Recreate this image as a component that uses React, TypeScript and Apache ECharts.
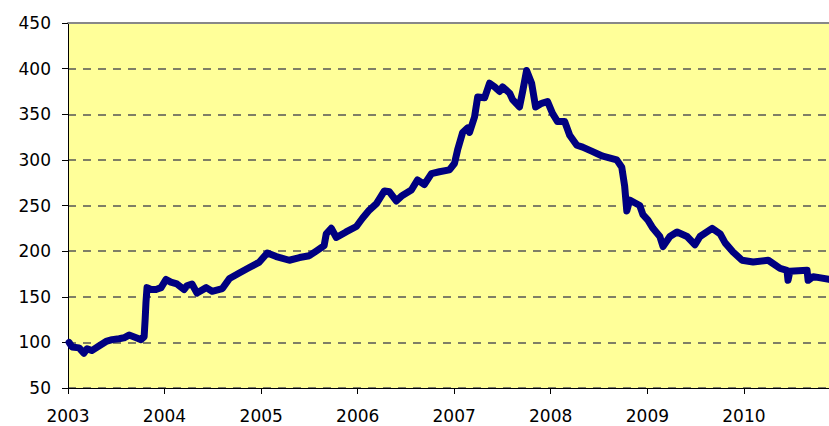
import React, { useEffect, useRef } from "react";
import * as echarts from "echarts";

const dates: string[] = [
  "2003-01-05", "2003-01-16", "2003-02-12", "2003-03-02", "2003-03-14", "2003-04-01",
  "2003-04-28", "2003-05-25", "2003-06-17", "2003-07-13", "2003-08-01", "2003-08-20",
  "2003-09-16", "2003-10-04", "2003-10-16", "2003-10-20", "2003-10-23", "2003-10-27",
  "2003-11-11", "2003-11-30", "2003-12-19", "2004-01-07", "2004-01-25", "2004-02-17",
  "2004-03-15", "2004-03-26", "2004-04-14", "2004-05-03", "2004-06-07", "2004-06-29",
  "2004-08-07", "2004-09-03", "2004-10-10", "2004-11-17", "2004-12-25", "2005-01-24",
  "2005-02-27", "2005-04-17", "2005-05-26", "2005-07-02", "2005-07-28", "2005-08-27",
  "2005-09-04", "2005-09-23", "2005-10-12", "2005-11-18", "2005-12-27", "2006-01-19",
  "2006-02-14", "2006-03-13", "2006-04-12", "2006-05-01", "2006-05-27", "2006-06-19",
  "2006-07-23", "2006-08-15", "2006-09-10", "2006-10-07", "2006-11-06", "2006-12-14",
  "2007-01-02", "2007-01-14", "2007-02-02", "2007-02-21", "2007-02-28", "2007-03-19",
  "2007-03-31", "2007-04-26", "2007-05-15", "2007-06-03", "2007-06-22", "2007-07-03",
  "2007-07-30", "2007-08-10", "2007-09-05", "2007-09-17", "2007-10-02", "2007-10-21",
  "2007-11-05", "2007-11-28", "2007-12-20", "2008-01-08", "2008-01-27", "2008-02-23",
  "2008-03-13", "2008-04-09", "2008-05-01", "2008-06-08", "2008-07-16", "2008-09-07",
  "2008-09-26", "2008-10-07", "2008-10-15", "2008-10-26", "2008-12-03", "2008-12-15",
  "2009-01-03", "2009-01-22", "2009-02-17", "2009-03-01", "2009-03-27", "2009-04-23",
  "2009-05-31", "2009-06-30", "2009-07-19", "2009-09-03", "2009-10-03", "2009-10-22",
  "2009-11-21", "2009-12-25", "2010-02-05", "2010-04-03", "2010-05-18", "2010-06-13",
  "2010-06-17", "2010-06-24", "2010-08-28", "2010-09-01", "2010-09-20", "2010-11-19",
];

const values: number[] = [
  100, 95, 94, 88, 93, 91,
  96, 101, 103, 104, 105, 108,
  105, 103, 106, 126, 144, 160,
  158, 158, 160, 169, 166, 164,
  158, 162, 164, 154, 160, 156,
  159, 170, 176, 182, 188, 198,
  194, 190, 193, 195, 200, 206,
  219, 225, 215, 221, 227, 236,
  245, 252, 266, 265, 255, 261,
  267, 278, 273, 285, 287, 289,
  296, 311, 330, 335, 330, 347,
  369, 368, 384, 380, 375, 380,
  373, 366, 358, 375, 398, 384,
  358, 362, 364, 351, 342, 342,
  327, 316, 314, 309, 304, 300,
  292, 271, 244, 256, 250, 240,
  234, 225, 216, 205, 216, 221,
  216, 207, 216, 225, 219, 209,
  199, 190, 188, 190, 181, 179,
  168, 178, 179, 168, 172, 169,
];

const yearTicks: number[] = [2003, 2004, 2005, 2006, 2007, 2008, 2009, 2010];
const xStart = "2003-01-01";
const xEnd = "2010-11-19";
const yMin = 50;
const yMax = 450;
const yStep = 50;

export default function App() {
  const ref = useRef<HTMLDivElement>(null);

  useEffect(() => {
    if (!ref.current) return;
    const chart = echarts.init(ref.current, undefined, { renderer: "svg" });
    const data = dates.map((d, i) => [Date.parse(d), values[i]]);
    const yearValues = yearTicks.map((y) => Date.UTC(y, 0, 1));
    const font = "DejaVu Sans, Verdana, sans-serif";

    chart.setOption({
      animation: false,
      grid: {
        left: 68,
        right: 0,
        top: 23,
        bottom: 38,
        show: true,
        backgroundColor: "#FFFF99",
        borderWidth: 0,
      },
      xAxis: [
        {
          type: "value",
          min: Date.parse(xStart),
          max: Date.parse(xEnd),
          axisLine: { show: true, lineStyle: { color: "#000", width: 1 } },
          axisTick: {
            show: true,
            customValues: yearValues,
            length: 6,
            lineStyle: { color: "#000" },
          },
          axisLabel: {
            customValues: yearValues,
            formatter: (v: number) => String(new Date(v).getUTCFullYear()),
            color: "#000",
            fontSize: 17,
            fontFamily: font,
            margin: 19,
          },
          splitLine: { show: false },
        },
        {
          type: "value",
          position: "top",
          min: 0,
          max: 1,
          axisLine: { show: true, onZero: false, lineStyle: { color: "#888", width: 2 } },
          axisTick: { show: false },
          axisLabel: { show: false },
          splitLine: { show: false },
        },
      ],
      yAxis: {
        type: "value",
        min: yMin,
        max: yMax,
        interval: yStep,
        axisLine: { show: true, lineStyle: { color: "#000", width: 1 } },
        axisTick: { show: true, length: 6, lineStyle: { color: "#000" } },
        axisLabel: {
          color: "#000",
          fontSize: 17,
          fontFamily: font,
          margin: 17,
        },
        splitLine: {
          show: true,
          lineStyle: { color: "#555", width: 1.5, type: [8, 7] },
        },
      },
      series: [
        {
          type: "line",
          xAxisIndex: 0,
          data,
          showSymbol: false,
          symbol: "none",
          lineStyle: { color: "#000080", width: 7, cap: "round", join: "round" },
        },
      ],
    });

    return () => chart.dispose();
  }, []);

  return <div ref={ref} style={{ width: 829, height: 426, position: "absolute", left: 0, top: 0 }} />;
}
